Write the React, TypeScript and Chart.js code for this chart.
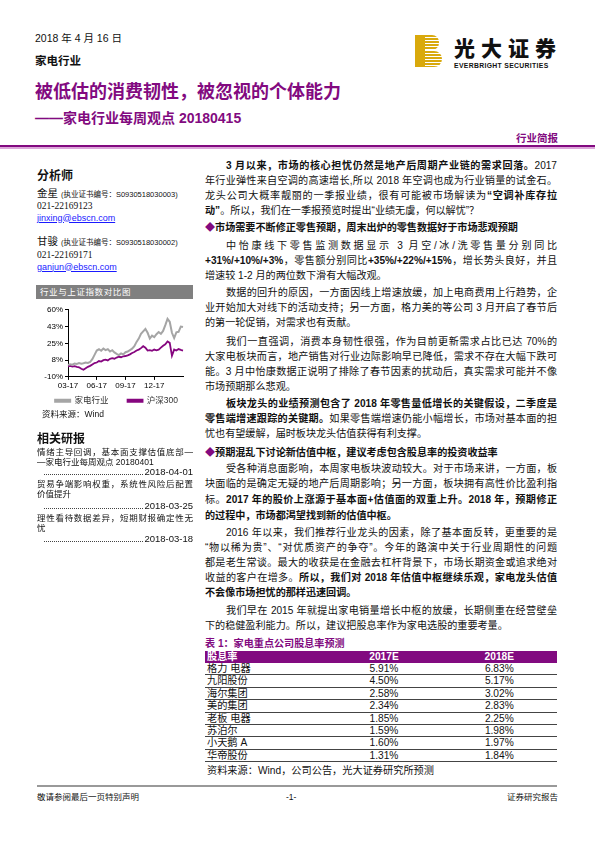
import React, { useEffect, useRef } from "react";
import { Chart, registerables } from "chart.js";

Chart.register(...registerables);

// weekly closes, cumulative change since 2017-03-17 (%)
const weekLabels = [
  "2017-03-17", "2017-03-24", "2017-03-31", "2017-04-07", "2017-04-14", "2017-04-21", "2017-04-28",
  "2017-05-05", "2017-05-12", "2017-05-19", "2017-05-26", "2017-06-02", "2017-06-09", "2017-06-16",
  "2017-06-23", "2017-06-30", "2017-07-07", "2017-07-14", "2017-07-21", "2017-07-28", "2017-08-04",
  "2017-08-11", "2017-08-18", "2017-08-25", "2017-09-01", "2017-09-08", "2017-09-15", "2017-09-22",
  "2017-09-29", "2017-10-06", "2017-10-13", "2017-10-20", "2017-10-27", "2017-11-03", "2017-11-10",
  "2017-11-17", "2017-11-24", "2017-12-01", "2017-12-08", "2017-12-15", "2017-12-22", "2017-12-29",
  "2018-01-05", "2018-01-12", "2018-01-19", "2018-01-26", "2018-02-02", "2018-02-09", "2018-02-16",
  "2018-02-23", "2018-03-02", "2018-03-09", "2018-03-16",
];

const applianceIdx = [
  2.5, 3.2, 2.8, 4.0, 3.5, 4.5, 3.8, 4.2, 5.0, 4.6, 5.5, 8.5, 13.0, 17.5,
  18.8, 17.2, 19.5, 18.0, 19.0, 16.5, 17.8, 15.5, 14.0, 12.8, 14.5, 13.5, 15.8, 16.5,
  18.0, 19.5, 22.0, 26.5, 30.0, 35.0, 37.5, 40.0, 36.0, 30.0, 33.0, 31.5, 34.5, 36.8,
  35.0, 38.0, 44.0, 50.5, 47.5, 36.0, 30.5, 36.5, 37.0, 42.5, 42.0,
];

const csi300Idx = [
  1.0, 1.5, 0.8, 1.2, 0.5, 0.0, -1.5, -2.5, -1.0, 0.5, 1.5, 3.0, 4.5, 5.0,
  6.5, 6.0, 7.5, 8.0, 7.2, 8.8, 9.5, 9.0, 10.2, 11.0, 10.5, 11.5, 11.8, 12.5,
  13.5, 15.0, 16.0, 17.5, 18.5, 20.0, 22.0, 20.5, 17.5, 18.0, 17.2, 18.5, 17.8, 18.5,
  20.5, 22.5, 24.0, 27.0, 25.5, 12.0, 18.5, 17.5, 19.0, 18.2, 17.5,
];

const seriesNames = ["家电行业", "沪深300"];
const xTickIndex = [0, 13, 26, 39];
const yMin = -10;
const yMax = 60;
const yStep = 17.5;

const companies = ["格力 电器", "九阳股份", "海尔集团", "美的集团", "老板 电器", "苏泊尔", "小天鹅 A", "华帝股份"];
const yield2017E = [5.91, 4.5, 2.58, 2.34, 1.85, 1.59, 1.6, 1.31];
const yield2018E = [6.83, 5.17, 3.02, 2.83, 2.25, 1.98, 1.97, 1.84];
const tableHead = ["股息率", "2017E", "2018E"];

const PURPLE = "#820a80";
const SANS = '"Liberation Sans", "Noto Sans CJK SC", sans-serif';
const CJK = '"Noto Sans CJK SC", sans-serif';

const CHART_W = 160;
const CHART_H = 112;

const IndexChart: React.FC = () => {
  const canvasRef = useRef<HTMLCanvasElement>(null);
  const chartRef = useRef<Chart | null>(null);

  useEffect(() => {
    if (!canvasRef.current) return;
    if (chartRef.current) chartRef.current.destroy();

    chartRef.current = new Chart(canvasRef.current, {
      type: "line",
      data: {
        labels: weekLabels,
        datasets: [
          {
            label: seriesNames[0],
            data: applianceIdx,
            borderColor: "#a5a5a5",
            backgroundColor: "#a5a5a5",
            borderWidth: 2,
            pointRadius: 0,
          },
          {
            label: seriesNames[1],
            data: csi300Idx,
            borderColor: "#86067f",
            backgroundColor: "#86067f",
            borderWidth: 1.8,
            pointRadius: 0,
          },
        ],
      },
      options: {
        animation: false,
        responsive: false,
        layout: { padding: { top: 6, right: 11, left: 0, bottom: 0 } },
        plugins: {
          tooltip: { enabled: false },
          legend: {
            position: "bottom",
            align: "end",
            labels: {
              boxWidth: 15,
              boxHeight: 2,
              padding: 5,
              color: "#333",
              font: { family: SANS, size: 8.5 },
              // a little extra room after the first entry, as in the report
              generateLabels: (chart: any) =>
                Chart.defaults.plugins.legend.labels
                  .generateLabels(chart)
                  .map((item: any, i: number) => (i === 0 ? { ...item, text: item.text + "      " } : item)),
            },
          },
        },
        scales: {
          x: {
            offset: false,
            afterBuildTicks: (axis: any) => {
              axis.ticks = axis.ticks.filter((t: any) => xTickIndex.includes(t.value));
            },
            grid: { drawOnChartArea: false, tickLength: 3, color: "#000" },
            border: { color: "#000", width: 1 },
            ticks: {
              autoSkip: false,
              maxRotation: 0,
              padding: 1,
              color: "#000",
              font: { family: SANS, size: 8 },
              callback: (v: any) => {
                const s = weekLabels[Number(v)];
                return `${s.slice(5, 7)}-${s.slice(2, 4)}`;
              },
            },
          },
          y: {
            min: yMin,
            max: yMax,
            afterFit: (axis: any) => {
              axis.width = 34;
            },
            grid: { drawOnChartArea: false, tickLength: 3, color: "#000" },
            border: { color: "#000", width: 1 },
            ticks: {
              stepSize: yStep,
              padding: 2,
              color: "#000",
              font: { family: SANS, size: 8 },
              callback: (v: any) => `${Math.round(Number(v))}%`,
            },
          },
        },
      },
    });

    return () => {
      if (chartRef.current) {
        chartRef.current.destroy();
        chartRef.current = null;
      }
    };
  }, []);

  return (
    <canvas
      ref={canvasRef}
      width={CHART_W}
      height={CHART_H}
      style={{ width: CHART_W, height: CHART_H, display: "block" }}
    />
  );
};

type TProps = {
  x: number;
  y: number;
  w?: number;
  size?: number;
  lh?: number;
  j?: boolean;
  indent?: boolean;
  style?: React.CSSProperties;
  children?: React.ReactNode;
};

// one line of text, y is the line's centre
const T: React.FC<TProps> = ({ x, y, w, size = 10.1, lh = 15, j, indent, style, children }) => (
  <div
    style={{
      position: "absolute",
      left: x,
      top: y - lh / 2,
      width: w,
      height: lh,
      lineHeight: `${lh}px`,
      fontSize: size,
      fontFamily: SANS,
      color: "#111",
      whiteSpace: w ? "normal" : "nowrap",
      textAlign: j ? "justify" : "left",
      textAlignLast: j ? "justify" : "left",
      paddingLeft: indent ? 21 : 0,
      boxSizing: "border-box",
      ...style,
    }}
  >
    {children}
  </div>
);

const RX = 205;
const RW = 352;

const DateLine: React.FC<{ y: number; date: string }> = ({ y, date }) => (
  <div
    style={{
      position: "absolute",
      left: 44,
      top: y - 6,
      width: 149,
      height: 12,
      display: "flex",
      alignItems: "flex-end",
      fontFamily: SANS,
      fontSize: 9.5,
      lineHeight: "12px",
      color: "#111",
    }}
  >
    <div style={{ flex: 1, height: 0, borderBottom: "1.2px dotted #444", marginBottom: 3, marginRight: 1 }} />
    <div style={{ flex: "none" }}>{date}</div>
  </div>
);

const App: React.FC = () => {
  return (
    <div
      style={{
        position: "absolute",
        left: 0,
        top: 0,
        width: 595,
        height: 842,
        background: "#fff",
        overflow: "hidden",
        fontFamily: SANS,
      }}
    >
      {/* header */}
      <T x={35} y={38} size={10.5}>2018 年 4 月 16 日</T>
      <T x={35} y={61} size={11.5} style={{ fontWeight: 700 }}>家电行业</T>
      <T x={35} y={92} size={18} lh={22} style={{ fontWeight: 700, color: PURPLE }}>
        被低估的消费韧性，被忽视的个体能力
      </T>
      <T x={35} y={118} size={14} lh={18} style={{ fontWeight: 700, color: PURPLE }}>
        ——家电行业每周观点 20180415
      </T>
      <T x={516} y={138} size={10.5} style={{ fontWeight: 700, color: PURPLE }}>行业简报</T>

      {/* logo */}
      <div style={{ position: "absolute", left: 415, top: 35, width: 27, height: 32 }}>
        <div style={{ position: "absolute", left: 0, top: 0, width: 10, height: 32, background: "#d9a90c" }} />
        <div
          style={{
            position: "absolute",
            left: 10,
            top: 0,
            width: 14,
            height: 15,
            borderRadius: "0 7px 7px 0",
            background: "repeating-linear-gradient(to bottom, #d9a90c 0 2px, #fff 2px 3px)",
          }}
        />
        <div
          style={{
            position: "absolute",
            left: 10,
            top: 16,
            width: 17,
            height: 16,
            borderRadius: "0 8px 8px 0",
            background: "repeating-linear-gradient(to bottom, #d9a90c 0 2px, #fff 2px 3px)",
          }}
        />
      </div>
      <T x={454} y={47} size={21} lh={24} style={{ fontWeight: 900, letterSpacing: 6, color: "#111", fontFamily: CJK }}>
        光大证券
      </T>
      <T x={454} y={66} size={6.8} lh={8} style={{ fontWeight: 700, letterSpacing: 0.35, color: "#111" }}>
        EVERBRIGHT SECURITIES
      </T>

      <div style={{ position: "absolute", left: 0, top: 145, width: 595, height: 2, background: PURPLE }} />
      <div style={{ position: "absolute", left: 0, top: 147, width: 595, height: 1.5, background: "#dca6da" }} />

      {/* left column: analysts */}
      <T x={37} y={176} size={12} style={{ fontWeight: 700 }}>分析师</T>
      <T x={37} y={193} size={10.5}>
        金星 <span style={{ fontSize: 7.5 }}>(执业证书编号：S0930518030003)</span>
      </T>
      <T x={37} y={206} size={9.5} style={{ fontFamily: '"Liberation Serif", serif' }}>021-22169123</T>
      <T x={37} y={218} size={9} style={{ color: "#1a1aff", textDecoration: "underline" }}>jinxing@ebscn.com</T>
      <T x={37} y={241} size={10.5}>
        甘骏 <span style={{ fontSize: 7.5 }}>(执业证书编号：S0930518030002)</span>
      </T>
      <T x={37} y={255} size={9.5} style={{ fontFamily: '"Liberation Serif", serif' }}>021-22169171</T>
      <T x={37} y={267} size={9} style={{ color: "#1a1aff", textDecoration: "underline" }}>ganjun@ebscn.com</T>

      {/* chart */}
      <div style={{ position: "absolute", left: 36, top: 285, width: 157, height: 14, background: "#808080" }} />
      <T x={40} y={292} size={8.5} lh={14} style={{ color: "#fff", letterSpacing: 0.6 }}>行业与上证指数对比图</T>
      <div style={{ position: "absolute", left: 34, top: 303, width: CHART_W, height: CHART_H }}>
        <IndexChart />
      </div>
      <T x={42} y={414} size={8.5} lh={11}>资料来源：Wind</T>

      {/* related reports */}
      <T x={37} y={439} size={12} style={{ fontWeight: 700 }}>相关研报</T>
      <T x={37} y={452} w={156} size={8.5} lh={11} j>情绪主导回调，基本面支撑估值底部—</T>
      <T x={37} y={462} size={8.5} lh={11}>—家电行业每周观点 20180401</T>
      <DateLine y={472} date="2018-04-01" />
      <T x={37} y={484} w={156} size={8.5} lh={11} j>贸易争端影响权重，系统性风险后配置</T>
      <T x={37} y={494} size={8.5} lh={11}>价值提升</T>
      <DateLine y={506} date="2018-03-25" />
      <T x={37} y={518} w={156} size={8.5} lh={11} j>理性看待数据差异，短期财报确定性无</T>
      <T x={37} y={528} size={8.5} lh={11}>忧</T>
      <DateLine y={539} date="2018-03-18" />

      {/* right column */}
      <T x={RX} y={165} w={RW} j indent>
        <b>3 月以来，市场的核心担忧仍然是地产后周期产业链的需求回落。</b>2017
      </T>
      <T x={RX} y={180} w={RW} j>年行业弹性来自空调的高速增长,所以 2018 年空调也成为行业销量的试金石。</T>
      <T x={RX} y={195} w={RW} j>
        龙头公司大概率靓丽的一季报业绩，很有可能被市场解读为<b>“空调补库存拉</b>
      </T>
      <T x={RX} y={210}>
        <b>动”</b>。所以，我们在一季报预览时提出“业绩无虞，何以解忧”？
      </T>

      <T x={RX} y={227}>
        <span style={{ color: PURPLE }}>◆</span>
        <b>市场需要不断修正零售预期，周末出炉的零售数据好于市场悲观预期</b>
      </T>

      <T x={RX} y={245} w={RW} j indent>中怡康线下零售监测数据显示 3 月空/冰/洗零售量分别同比</T>
      <T x={RX} y={260} w={RW} j>
        <b>+31%/+10%/+3%</b>，零售额分别同比<b>+35%/+22%/+15%</b>，增长势头良好，并且
      </T>
      <T x={RX} y={275}>增速较 1-2 月的两位数下滑有大幅改观。</T>

      <T x={RX} y={292} w={RW} j indent>数据的回升的原因，一方面因线上增速放缓，加上电商费用上行趋势，企</T>
      <T x={RX} y={307} w={RW} j>业开始加大对线下的活动支持；另一方面，格力美的等公司 3 月开启了春节后</T>
      <T x={RX} y={322}>的第一轮促销，对需求也有贡献。</T>

      <T x={RX} y={341} w={RW} j indent>我们一直强调，消费本身韧性很强，作为目前更新需求占比已达 70%的</T>
      <T x={RX} y={356} w={RW} j>大家电板块而言，地产销售对行业边际影响早已降低，需求不存在大幅下跌可</T>
      <T x={RX} y={371} w={RW} j>能。3 月中怡康数据正说明了排除了春节因素的扰动后，真实需求可能并不像</T>
      <T x={RX} y={386}>市场预期那么悲观。</T>

      <T x={RX} y={403} w={RW} j indent>
        <b>板块龙头的业绩预测包含了 2018 年零售量低增长的关键假设，二季度是</b>
      </T>
      <T x={RX} y={418} w={RW} j>
        <b>零售端增速跟踪的关键期。</b>如果零售端增速仍能小幅增长，市场对基本面的担
      </T>
      <T x={RX} y={433}>忧也有望缓解，届时板块龙头估值获得有利支撑。</T>

      <T x={RX} y={452}>
        <span style={{ color: PURPLE }}>◆</span>
        <b>预期混乱下讨论新估值中枢，建议考虑包含股息率的投资收益率</b>
      </T>

      <T x={RX} y={468} w={RW} j indent>受各种消息面影响，本周家电板块波动较大。对于市场来讲，一方面，板</T>
      <T x={RX} y={483} w={RW} j>块面临的是确定无疑的地产后周期影响；另一方面，板块拥有高性价比盈利指</T>
      <T x={RX} y={499} w={RW} j>
        标。<b>2017 年的股价上涨源于基本面+估值面的双重上升。2018 年，预期修正</b>
      </T>
      <T x={RX} y={515}>
        <b>的过程中，市场都渴望找到新的估值中枢。</b>
      </T>

      <T x={RX} y={532} w={RW} j indent>2016 年以来，我们推荐行业龙头的因素，除了基本面反转，更重要的是</T>
      <T x={RX} y={547} w={RW} j>“物以稀为贵”、“对优质资产的争夺”。今年的路演中关于行业周期性的问题</T>
      <T x={RX} y={562} w={RW} j>都是老生常谈。最大的收获是在金融去杠杆背景下，市场长期资金或追求绝对</T>
      <T x={RX} y={577} w={RW} j>
        收益的客户在增多。<b>所以，我们对 2018 年估值中枢继续乐观，家电龙头估值</b>
      </T>
      <T x={RX} y={592}>
        <b>不会像市场担忧的那样迅速回调。</b>
      </T>

      <T x={RX} y={610} w={RW} j indent>我们早在 2015 年就提出家电销量增长中枢的放缓，长期侧重在经营壁垒</T>
      <T x={RX} y={625}>下的稳健盈利能力。所以，建议把股息率作为家电选股的重要考量。</T>

      {/* table */}
      <T x={RX} y={643} style={{ fontWeight: 700, color: PURPLE }}>表 1：家电重点公司股息率预测</T>
      <div
        style={{
          position: "absolute",
          left: RX,
          top: 651,
          width: RW,
          height: 12,
          background: PURPLE,
          color: "#fff",
          fontWeight: 700,
          fontSize: 10.2,
          lineHeight: "12px",
          display: "flex",
        }}
      >
        <div style={{ width: 120, paddingLeft: 2 }}>{tableHead[0]}</div>
        <div style={{ width: 116, textAlign: "center" }}>{tableHead[1]}</div>
        <div style={{ width: 116, textAlign: "center" }}>{tableHead[2]}</div>
      </div>
      {companies.map((name, i) => (
        <div
          key={name}
          style={{
            position: "absolute",
            left: RX,
            top: 663 + i * 12.4,
            width: RW,
            height: 12.4,
            borderBottom: "1px solid #444",
            boxSizing: "border-box",
            fontSize: 10.2,
            lineHeight: "12px",
            color: "#111",
            display: "flex",
          }}
        >
          <div style={{ width: 120, paddingLeft: 2 }}>{name}</div>
          <div style={{ width: 116, textAlign: "center" }}>{yield2017E[i].toFixed(2)}%</div>
          <div style={{ width: 116, textAlign: "center" }}>{yield2018E[i].toFixed(2)}%</div>
        </div>
      ))}
      <T x={207} y={770} size={10.2}>资料来源：Wind，公司公告，光大证券研究所预测</T>

      {/* footer */}
      <div style={{ position: "absolute", left: 37, top: 785, width: 520, height: 1.5, background: "#999" }} />
      <T x={37} y={797} size={8.5}>敬请参阅最后一页特别声明</T>
      <T x={286} y={797} size={8.5}>-1-</T>
      <T x={507} y={797} size={8.5}>证券研究报告</T>
    </div>
  );
};

export default App;
